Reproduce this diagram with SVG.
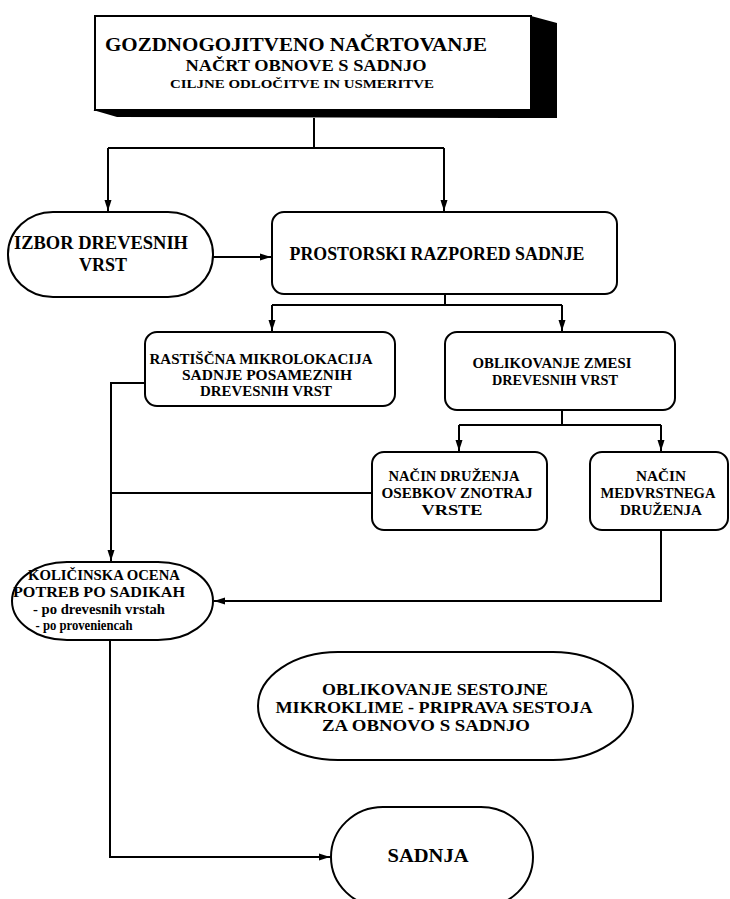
<svg xmlns="http://www.w3.org/2000/svg" width="730" height="899" viewBox="0 0 730 899">
<defs>
<marker id="arr" markerUnits="userSpaceOnUse" markerWidth="12" markerHeight="8" refX="11" refY="4" orient="auto">
<path d="M0,0.5 L11,4 L0,7.5 Z" fill="#000"/>
</marker>
<style>
.shape{fill:#fff;stroke:#000;stroke-width:2}
.conn{fill:none;stroke:#000;stroke-width:2}
.t{font-family:'Liberation Serif','DejaVu Serif',serif;font-weight:bold;fill:#000;text-anchor:middle}
</style>
</defs>
<rect width="730" height="899" fill="#fff"/>
<g id="top" class="t" font-family="Liberation Serif, serif">
<polygon points="531,16 557,23 557,118 117,117 93,110 531,110" fill="#000"/>
<rect class="shape" x="95" y="16" width="436" height="94"/>
<text class="t" x="296" y="51" font-size="18" textLength="382" lengthAdjust="spacingAndGlyphs">GOZDNOGOJITVENO NAČRTOVANJE</text>
<text class="t" x="306" y="71" font-size="16" textLength="241" lengthAdjust="spacingAndGlyphs">NAČRT OBNOVE S SADNJO</text>
<text class="t" x="302" y="88" font-size="13" textLength="264" lengthAdjust="spacingAndGlyphs">CILJNE ODLOČITVE IN USMERITVE</text>
</g>
<g id="izbor" class="t" font-family="Liberation Serif, serif">
<rect class="shape" x="8" y="212" width="205" height="85" rx="45" ry="42"/>
<text class="t" x="101" y="249" font-size="19" textLength="174" lengthAdjust="spacingAndGlyphs">IZBOR DREVESNIH</text>
<text class="t" x="103" y="271" font-size="19" textLength="48" lengthAdjust="spacingAndGlyphs">VRST</text>
</g>
<g id="prostorski" class="t" font-family="Liberation Serif, serif">
<rect class="shape" x="272" y="212" width="345" height="82" rx="12"/>
<text class="t" x="437" y="260" font-size="19" textLength="295" lengthAdjust="spacingAndGlyphs">PROSTORSKI RAZPORED SADNJE</text>
</g>
<g id="rastiscna" class="t" font-family="Liberation Serif, serif">
<rect class="shape" x="145" y="332" width="250" height="74" rx="12"/>
<text class="t" x="261" y="364" font-size="15" textLength="223" lengthAdjust="spacingAndGlyphs">RASTIŠČNA MIKROLOKACIJA</text>
<text class="t" x="267" y="380" font-size="15" textLength="170" lengthAdjust="spacingAndGlyphs">SADNJE POSAMEZNIH</text>
<text class="t" x="266" y="396" font-size="15" textLength="132" lengthAdjust="spacingAndGlyphs">DREVESNIH VRST</text>
</g>
<g id="zmesi" class="t" font-family="Liberation Serif, serif">
<rect class="shape" x="445" y="332" width="230" height="78" rx="12"/>
<text class="t" x="552" y="368" font-size="15" textLength="159" lengthAdjust="spacingAndGlyphs">OBLIKOVANJE ZMESI</text>
<text class="t" x="555" y="385" font-size="15" textLength="126" lengthAdjust="spacingAndGlyphs">DREVESNIH VRST</text>
</g>
<g id="nacin-druzenja" class="t" font-family="Liberation Serif, serif">
<rect class="shape" x="372" y="452" width="175" height="78" rx="12"/>
<text class="t" x="454" y="481" font-size="15" textLength="131" lengthAdjust="spacingAndGlyphs">NAČIN DRUŽENJA</text>
<text class="t" x="457" y="498" font-size="15" textLength="151" lengthAdjust="spacingAndGlyphs">OSEBKOV ZNOTRAJ</text>
<text class="t" x="452" y="515" font-size="15" textLength="61" lengthAdjust="spacingAndGlyphs">VRSTE</text>
</g>
<g id="medvrstnega" class="t" font-family="Liberation Serif, serif">
<rect class="shape" x="590" y="452" width="138" height="78" rx="12"/>
<text class="t" x="661" y="481" font-size="15" textLength="50" lengthAdjust="spacingAndGlyphs">NAČIN</text>
<text class="t" x="658" y="498" font-size="15" textLength="115" lengthAdjust="spacingAndGlyphs">MEDVRSTNEGA</text>
<text class="t" x="661" y="515" font-size="15" textLength="82" lengthAdjust="spacingAndGlyphs">DRUŽENJA</text>
</g>
<g id="kolicinska" class="t" font-family="Liberation Serif, serif">
<rect class="shape" x="12" y="562" width="201" height="78" rx="55" ry="39"/>
<text class="t" x="104" y="580" font-size="15" textLength="152" lengthAdjust="spacingAndGlyphs">KOLIČINSKA OCENA</text>
<text class="t" x="99" y="597" font-size="15" textLength="172" lengthAdjust="spacingAndGlyphs">POTREB PO SADIKAH</text>
<text class="t" x="99" y="614" font-size="14" textLength="132" lengthAdjust="spacingAndGlyphs">- po drevesnih vrstah</text>
<text class="t" x="84" y="630" font-size="14" textLength="97" lengthAdjust="spacingAndGlyphs">- po proveniencah</text>
</g>
<g id="mikroklima" class="t" font-family="Liberation Serif, serif">
<rect class="shape" x="258" y="652" width="375" height="108" rx="80" ry="54"/>
<text class="t" x="435" y="695" font-size="17" textLength="226" lengthAdjust="spacingAndGlyphs">OBLIKOVANJE SESTOJNE</text>
<text class="t" x="434" y="713" font-size="17" textLength="317" lengthAdjust="spacingAndGlyphs">MIKROKLIME - PRIPRAVA SESTOJA</text>
<text class="t" x="426" y="731" font-size="17" textLength="208" lengthAdjust="spacingAndGlyphs">ZA OBNOVO S SADNJO</text>
</g>
<g id="sadnja" class="t" font-family="Liberation Serif, serif">
<rect class="shape" x="331" y="807" width="202" height="100" rx="52" ry="50"/>
<text class="t" x="428" y="862" font-size="19" textLength="81" lengthAdjust="spacingAndGlyphs">SADNJA</text>
</g>
<g id="connectors">
<path class="conn" d="M314,118 V148 M108,148 H444"/>
<path class="conn" d="M108,148 V211" marker-end="url(#arr)"/>
<path class="conn" d="M444,148 V211" marker-end="url(#arr)"/>
<path class="conn" d="M213,257 H271" marker-end="url(#arr)"/>
<path class="conn" d="M445,294 V305 M272,305 H562"/>
<path class="conn" d="M272,305 V331" marker-end="url(#arr)"/>
<path class="conn" d="M562,305 V331" marker-end="url(#arr)"/>
<path class="conn" d="M145,383 H111 V561" marker-end="url(#arr)"/>
<path class="conn" d="M562,410 V425 M459,425 H661"/>
<path class="conn" d="M459,425 V451" marker-end="url(#arr)"/>
<path class="conn" d="M661,425 V451" marker-end="url(#arr)"/>
<path class="conn" d="M372,493 H111"/>
<path class="conn" d="M661,530 V601 H214" marker-end="url(#arr)"/>
<path class="conn" d="M110,640 V857 H330" marker-end="url(#arr)"/>
</g>
</svg>
